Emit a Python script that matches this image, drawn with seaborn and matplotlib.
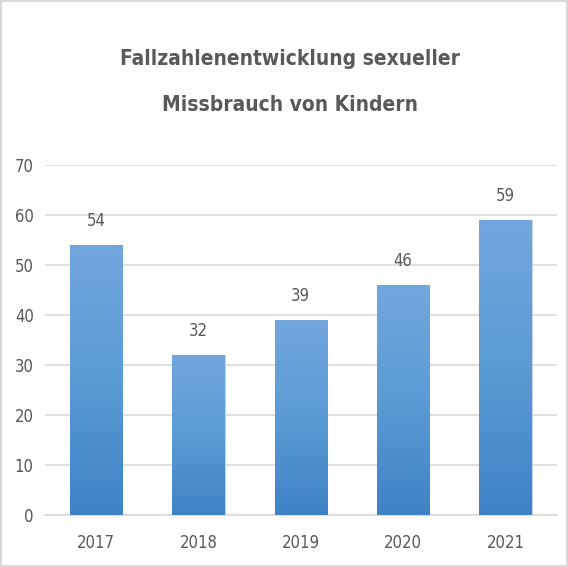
import numpy as np
import pandas as pd
import matplotlib
matplotlib.use("Agg")
import matplotlib.pyplot as plt
from matplotlib.colors import LinearSegmentedColormap
import seaborn as sns

years = ["2017", "2018", "2019", "2020", "2021"]
cases = [54, 32, 39, 46, 59]
title = "Fallzahlenentwicklung sexueller\nMissbrauch von Kindern"

df = pd.DataFrame({"Jahr": years, "Fälle": cases})

sns.set_style("white")
plt.rcParams["font.family"] = ["DejaVu Sans"]
plt.rcParams["font.stretch"] = "condensed"
grey = "#595959"

fig = plt.figure(figsize=(5.68, 5.67), dpi=100)
fig.patch.set_edgecolor("#d9d9d9")
fig.patch.set_linewidth(1.5)
ax = fig.add_axes([0.079, 0.092, 0.901, 0.617])

sns.barplot(data=df, x="Jahr", y="Fälle", color="#5b9bd5", width=0.51,
            saturation=1, ax=ax, zorder=3, edgecolor="#c8d3de", linewidth=0.8)

# Farbverlauf in den Balken
cmap = LinearSegmentedColormap.from_list("blau", ["#3f83c6", "#5b9bd5", "#72a7dd"])
grad = np.linspace(0, 1, 256).reshape(-1, 1)
for bar in ax.patches:
    x0, y0 = bar.get_x(), bar.get_y()
    w, h = bar.get_width(), bar.get_height()
    im = ax.imshow(grad, cmap=cmap, origin="lower", aspect="auto",
                   extent=[x0, x0 + w, y0, y0 + h], zorder=4)
    im.set_clip_path(bar)
    ax.text(x0 + w / 2, h + 3, str(int(h)), ha="center", va="bottom",
            fontsize=12, color=grey, zorder=5)

ax.set_xlim(-0.5, 4.5)
ax.set_ylim(0, 70)
ax.set_yticks(range(0, 71, 10))
ax.yaxis.grid(True, color="#d9d9d9", linewidth=1.2, zorder=0)
ax.set_axisbelow(True)
for s in ["top", "right", "left"]:
    ax.spines[s].set_visible(False)
ax.spines["bottom"].set_color("#d9d9d9")
ax.spines["bottom"].set_linewidth(1.2)
ax.tick_params(axis="both", length=0, labelsize=12, colors=grey)
ax.tick_params(axis="x", pad=14)
ax.tick_params(axis="y", pad=8)
ax.set_xlabel("")
ax.set_ylabel("")

fig.text(0.51, 0.855, title, ha="center", va="center", fontsize=15,
         fontweight="bold", color=grey, linespacing=2.65)

fig.savefig("out.png", dpi=100)
